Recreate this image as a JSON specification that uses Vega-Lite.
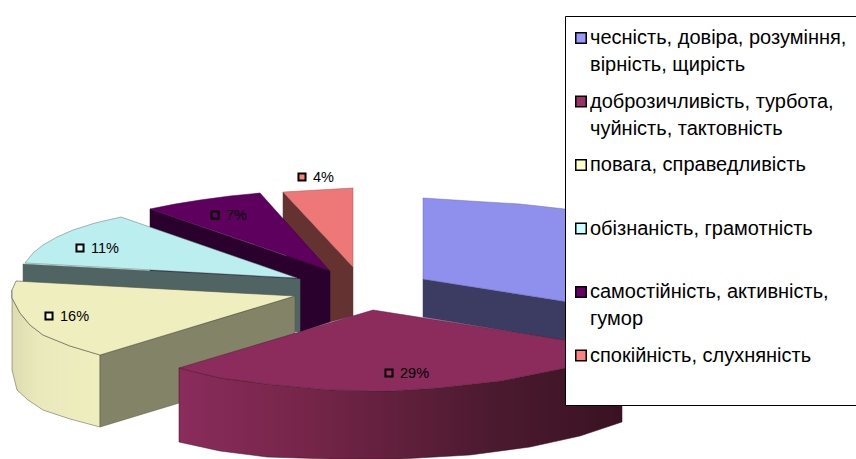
{
"$schema":"https://vega.github.io/schema/vega-lite/v6.json",
"width":856,"height":459,"padding":0,"autosize":{"type":"none"},
"background":"white",
"view":{"stroke":null},
"datasets":{
"shapes":[
{"part":"blue wall","i":0,"x":423,"y":279},{"part":"blue wall","i":1,"x":620,"y":310},{"part":"blue wall","i":2,"x":620,"y":350},{"part":"blue wall","i":3,"x":423,"y":317},{"part":"blue wall","i":4,"x":423,"y":279},
{"part":"blue top","i":0,"x":423,"y":198},{"part":"blue top","i":1,"x":470,"y":201},{"part":"blue top","i":2,"x":520,"y":204},{"part":"blue top","i":3,"x":565,"y":209},{"part":"blue top","i":4,"x":620,"y":216},{"part":"blue top","i":5,"x":620,"y":310},{"part":"blue top","i":6,"x":423,"y":279},{"part":"blue top","i":7,"x":423,"y":198},
{"part":"salmon wall","i":0,"x":283,"y":192},{"part":"salmon wall","i":1,"x":353,"y":267},{"part":"salmon wall","i":2,"x":353,"y":316},{"part":"salmon wall","i":3,"x":330,"y":322},{"part":"salmon wall","i":4,"x":283,"y":250},{"part":"salmon wall","i":5,"x":283,"y":192},
{"part":"salmon top","i":0,"x":283,"y":192},{"part":"salmon top","i":1,"x":318,"y":190},{"part":"salmon top","i":2,"x":353,"y":188},{"part":"salmon top","i":3,"x":353,"y":267},{"part":"salmon top","i":4,"x":283,"y":192},
{"part":"purple wall","i":0,"x":150,"y":209},{"part":"purple wall","i":1,"x":330,"y":271},{"part":"purple wall","i":2,"x":330,"y":322},{"part":"purple wall","i":3,"x":300,"y":332},{"part":"purple wall","i":4,"x":150,"y":280},{"part":"purple wall","i":5,"x":150,"y":209},
{"part":"purple top","i":0,"x":150,"y":209},{"part":"purple top","i":1,"x":175,"y":204},{"part":"purple top","i":2,"x":200,"y":200},{"part":"purple top","i":3,"x":230,"y":196},{"part":"purple top","i":4,"x":260,"y":193},{"part":"purple top","i":5,"x":329,"y":270},{"part":"purple top","i":6,"x":150,"y":209},
{"part":"cyan wall","i":0,"x":23,"y":264},{"part":"cyan wall","i":1,"x":300,"y":279},{"part":"cyan wall","i":2,"x":300,"y":332},{"part":"cyan wall","i":3,"x":23,"y":320},{"part":"cyan wall","i":4,"x":23,"y":264},
{"part":"cyan top","i":0,"x":25,"y":263},{"part":"cyan top","i":1,"x":33,"y":253},{"part":"cyan top","i":2,"x":43,"y":245},{"part":"cyan top","i":3,"x":57,"y":237},{"part":"cyan top","i":4,"x":73,"y":230},{"part":"cyan top","i":5,"x":95,"y":223},{"part":"cyan top","i":6,"x":121,"y":217},{"part":"cyan top","i":7,"x":297,"y":278},{"part":"cyan top","i":8,"x":25,"y":263},
{"part":"yellow front","i":0,"x":12,"y":290},{"part":"yellow front","i":1,"x":12,"y":298},{"part":"yellow front","i":2,"x":20,"y":313},{"part":"yellow front","i":3,"x":30,"y":325},{"part":"yellow front","i":4,"x":43,"y":335},{"part":"yellow front","i":5,"x":70,"y":346},{"part":"yellow front","i":6,"x":100,"y":355},{"part":"yellow front","i":7,"x":100,"y":427},{"part":"yellow front","i":8,"x":70,"y":419},{"part":"yellow front","i":9,"x":43,"y":410},{"part":"yellow front","i":10,"x":28,"y":400},{"part":"yellow front","i":11,"x":17,"y":390},{"part":"yellow front","i":12,"x":12,"y":370},{"part":"yellow front","i":13,"x":12,"y":290},
{"part":"yellow side","i":0,"x":100,"y":355},{"part":"yellow side","i":1,"x":295,"y":296},{"part":"yellow side","i":2,"x":295,"y":368},{"part":"yellow side","i":3,"x":100,"y":427},{"part":"yellow side","i":4,"x":100,"y":355},
{"part":"yellow top","i":0,"x":16,"y":281},{"part":"yellow top","i":1,"x":12,"y":290},{"part":"yellow top","i":2,"x":12,"y":298},{"part":"yellow top","i":3,"x":20,"y":313},{"part":"yellow top","i":4,"x":30,"y":325},{"part":"yellow top","i":5,"x":43,"y":335},{"part":"yellow top","i":6,"x":70,"y":346},{"part":"yellow top","i":7,"x":100,"y":355},{"part":"yellow top","i":8,"x":295,"y":296},{"part":"yellow top","i":9,"x":16,"y":281},
{"part":"maroon wall","i":0,"x":179,"y":368},{"part":"maroon wall","i":1,"x":220,"y":378},{"part":"maroon wall","i":2,"x":267,"y":384},{"part":"maroon wall","i":3,"x":330,"y":390},{"part":"maroon wall","i":4,"x":390,"y":391},{"part":"maroon wall","i":5,"x":437,"y":388},{"part":"maroon wall","i":6,"x":500,"y":381},{"part":"maroon wall","i":7,"x":565,"y":368},{"part":"maroon wall","i":8,"x":622,"y":345},{"part":"maroon wall","i":9,"x":622,"y":422},{"part":"maroon wall","i":10,"x":580,"y":436},{"part":"maroon wall","i":11,"x":530,"y":447},{"part":"maroon wall","i":12,"x":470,"y":455},{"part":"maroon wall","i":13,"x":400,"y":459},{"part":"maroon wall","i":14,"x":330,"y":459},{"part":"maroon wall","i":15,"x":267,"y":457},{"part":"maroon wall","i":16,"x":220,"y":451},{"part":"maroon wall","i":17,"x":179,"y":442},{"part":"maroon wall","i":18,"x":179,"y":368},
{"part":"maroon top","i":0,"x":179,"y":368},{"part":"maroon top","i":1,"x":373,"y":310},{"part":"maroon top","i":2,"x":622,"y":349},{"part":"maroon top","i":3,"x":622,"y":345},{"part":"maroon top","i":4,"x":565,"y":368},{"part":"maroon top","i":5,"x":500,"y":381},{"part":"maroon top","i":6,"x":437,"y":388},{"part":"maroon top","i":7,"x":390,"y":391},{"part":"maroon top","i":8,"x":330,"y":390},{"part":"maroon top","i":9,"x":267,"y":384},{"part":"maroon top","i":10,"x":220,"y":378},{"part":"maroon top","i":11,"x":179,"y":368}
],
"labels":[
{"category":"доброзичливість, турбота,\nчуйність, тактовність","share":29,"label":"29%","x":389,"y":373},
{"category":"повага, справедливість","share":16,"label":"16%","x":49,"y":316},
{"category":"обізнаність, грамотність","share":11,"label":"11%","x":80,"y":248},
{"category":"самостійність, активність,\nгумор","share":7,"label":"7%","x":215,"y":215},
{"category":"спокійність, слухняність","share":4,"label":"4%","x":302,"y":177}
]
},
"layer":[
{
"data":{"name":"shapes"},
"encoding":{
"x":{"field":"x","type":"quantitative","scale":{"domain":[0,856]},"axis":null},
"y":{"field":"y","type":"quantitative","scale":{"domain":[459,0]},"axis":null},
"order":{"field":"i","type":"ordinal"}
},
"layer":[
{"transform":[{"filter":{"field":"part","equal":"blue wall"}}],"mark":{"type":"line","fill":"#3c3c62","stroke":"#3c3c62","strokeWidth":0.5}},
{"transform":[{"filter":{"field":"part","equal":"blue top"}}],"mark":{"type":"line","fill":"#8f8fee","stroke":"#6c6cb0","strokeWidth":0.5}},
{"transform":[{"filter":{"field":"part","equal":"salmon wall"}}],"mark":{"type":"line","fill":"#653232","stroke":"#653232","strokeWidth":0.5}},
{"transform":[{"filter":{"field":"part","equal":"salmon top"}}],"mark":{"type":"line","fill":"#ee7777","stroke":"#a05555","strokeWidth":0.5}},
{"transform":[{"filter":{"field":"part","equal":"purple wall"}}],"mark":{"type":"line","fill":"#2a002c","stroke":"#2a002c","strokeWidth":0.5}},
{"transform":[{"filter":{"field":"part","equal":"purple top"}}],"mark":{"type":"line","fill":"#5e005e","stroke":"#3a003a","strokeWidth":0.5}},
{"transform":[{"filter":{"field":"part","equal":"cyan wall"}}],"mark":{"type":"line","fill":"#506464","stroke":"#506464","strokeWidth":0.5}},
{"transform":[{"filter":{"field":"part","equal":"cyan top"}}],"mark":{"type":"line","fill":"#bbeeee","stroke":"#607070","strokeWidth":0.5}},
{"transform":[{"filter":{"field":"part","equal":"yellow front"}}],"mark":{"type":"line","stroke":"#555544","strokeWidth":0.5,"fill":{"gradient":"linear","x1":0,"y1":0,"x2":1,"y2":0,"stops":[{"offset":0,"color":"#dcdcb0"},{"offset":0.3,"color":"#e9e9bc"},{"offset":1,"color":"#eeeebe"}]}}},
{"transform":[{"filter":{"field":"part","equal":"yellow side"}}],"mark":{"type":"line","fill":"#838367","stroke":"#555544","strokeWidth":0.5}},
{"transform":[{"filter":{"field":"part","equal":"yellow top"}}],"mark":{"type":"line","fill":"#eeeebe","stroke":"#555544","strokeWidth":0.6}},
{"transform":[{"filter":{"field":"part","equal":"maroon wall"}}],"mark":{"type":"line","stroke":"#3a1222","strokeWidth":0.5,"fill":{"gradient":"linear","x1":0,"y1":0,"x2":1,"y2":0,"stops":[{"offset":0,"color":"#8a2c5c"},{"offset":0.3,"color":"#742548"},{"offset":0.7,"color":"#4c1a30"},{"offset":1,"color":"#3a1222"}]}}},
{"transform":[{"filter":{"field":"part","equal":"maroon top"}}],"mark":{"type":"line","fill":"#8b2c5c","stroke":"#5a1c3c","strokeWidth":0.5}}
]
},
{
"data":{"name":"labels"},
"mark":{"type":"point","shape":"square","filled":true,"size":50,"stroke":"black","strokeWidth":2,"opacity":1},
"encoding":{
"x":{"field":"x","type":"quantitative","scale":{"domain":[0,856]},"axis":null},
"y":{"field":"y","type":"quantitative","scale":{"domain":[459,0]},"axis":null},
"color":{"field":"category","type":"nominal",
"scale":{"domain":["чесність, довіра, розуміння,\nвірність, щирість","доброзичливість, турбота,\nчуйність, тактовність","повага, справедливість","обізнаність, грамотність","самостійність, активність,\nгумор","спокійність, слухняність"],
"range":["#9999ff","#993366","#ffffcc","#ccffff","#660066","#ff8080"]},
"legend":{"title":null,"orient":"none","legendX":565,"legendY":16,"padding":12,"fillColor":"white","strokeColor":"black","symbolType":"square","symbolSize":110,"symbolStrokeColor":"black","symbolStrokeWidth":1.5,"symbolOpacity":1,"symbolOffset":-6,"labelFont":"Liberation Sans","labelFontSize":20,"labelColor":"black","labelLimit":400,"labelOffset":-1,"rowPadding":16.5,"gridAlign":"all","columns":1,"labelBaseline":"top","labelExpr":"split(indexof(datum.label,'спокійність')==0 ? datum.label+'\\n ' : datum.label,'\\n')","zindex":2,"encoding":{"labels":{"lineHeight":{"value":27},"dy":{"value":-10}}}}}
}
},
{
"data":{"name":"labels"},
"mark":{"type":"text","align":"left","baseline":"middle","dx":11,"dy":1,"font":"Liberation Sans","fontSize":14.5,"color":"black"},
"encoding":{
"x":{"field":"x","type":"quantitative","scale":{"domain":[0,856]},"axis":null},
"y":{"field":"y","type":"quantitative","scale":{"domain":[459,0]},"axis":null},
"text":{"field":"label","type":"nominal"}
}
}
]
}
